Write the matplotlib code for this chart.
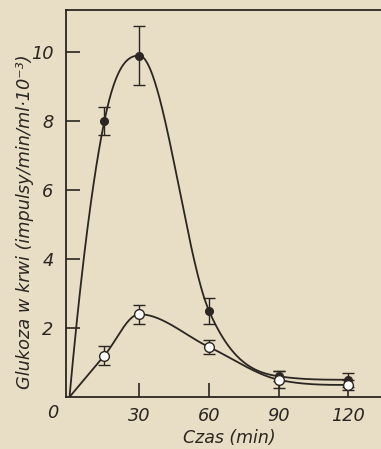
import numpy as np
import matplotlib
matplotlib.use("Agg")
import matplotlib.pyplot as plt

# ---- data ----
time_min = [0, 15, 30, 60, 90, 120]
filled_vals = [0.0, 8.0, 9.9, 2.5, 0.6, 0.5]
filled_err = [0.0, 0.4, 0.85, 0.37, 0.15, 0.2]
open_vals = [0.0, 1.2, 2.4, 1.45, 0.5, 0.35]
open_err = [0.0, 0.28, 0.28, 0.2, 0.25, 0.15]
xticks = [30, 60, 90, 120]
yticks = [2, 4, 6, 8, 10]

BG = '#e8ddc5'
INK = '#2b2621'


def smooth_curve(x, y, n=500):
    """Monotone cubic Hermite curve through the points (centred slopes, Fritsch-Carlson limited)."""
    x = np.asarray(x, float); y = np.asarray(y, float)
    h = np.diff(x); d = np.diff(y) / h
    m = np.zeros_like(y)
    for k in range(1, len(x) - 1):
        if d[k - 1] * d[k] > 0:
            m[k] = (y[k + 1] - y[k - 1]) / (x[k + 1] - x[k - 1])
    m[0] = ((2 * h[0] + h[1]) * d[0] - h[0] * d[1]) / (h[0] + h[1])
    m[-1] = ((2 * h[-1] + h[-2]) * d[-1] - h[-1] * d[-2]) / (h[-1] + h[-2])
    if np.sign(m[0]) != np.sign(d[0]):
        m[0] = 0
    if np.sign(m[-1]) != np.sign(d[-1]):
        m[-1] = 0
    for k in range(len(d)):
        if d[k] == 0:
            m[k] = m[k + 1] = 0
            continue
        a, b = m[k] / d[k], m[k + 1] / d[k]
        r = a * a + b * b
        if r > 9:
            tau = 3 / np.sqrt(r)
            m[k] = tau * a * d[k]; m[k + 1] = tau * b * d[k]
    xs = np.linspace(x[0], x[-1], n)
    i = np.clip(np.searchsorted(x, xs, side='right') - 1, 0, len(x) - 2)
    t = (xs - x[i]) / h[i]
    h00 = 2 * t**3 - 3 * t**2 + 1; h10 = t**3 - 2 * t**2 + t
    h01 = -2 * t**3 + 3 * t**2; h11 = t**3 - t**2
    ys = h00 * y[i] + h10 * h[i] * m[i] + h01 * y[i + 1] + h11 * h[i] * m[i + 1]
    return xs, ys


fig = plt.figure(figsize=(3.81, 4.49), dpi=100, facecolor=BG)
ax = fig.add_axes([66 / 381, 52 / 449, (381 - 66) / 381, (397 - 10) / 449])
ax.set_facecolor(BG)
ax.set_xlim(-1.5, 134)
ax.set_ylim(0, 11.22)

for vals, err, face, ms in [(filled_vals, filled_err, INK, 5.5),
                            (open_vals, open_err, 'white', 7)]:
    xs, ys = smooth_curve(time_min, vals)
    ax.plot(xs, ys, color=INK, lw=1.3, zorder=2)
    ax.errorbar(time_min[1:], vals[1:], yerr=err[1:], fmt='o', ms=ms,
                mfc=face, mec=INK, mew=1.0, ecolor=INK, elinewidth=1.0,
                capsize=4, capthick=1.0, zorder=3)

for s in ['top', 'left', 'bottom']:
    ax.spines[s].set_color(INK)
    ax.spines[s].set_linewidth(1.3)
ax.spines['right'].set_visible(False)

tickfont = dict(family=['Liberation Sans Narrow', 'DejaVu Sans'], style='italic', size=12.8)
ax.set_xticks(xticks)
ax.set_yticks(yticks)
ax.set_xticklabels([str(v) for v in xticks], **tickfont, color=INK)
ax.set_yticklabels([str(v) for v in yticks], **tickfont, color=INK)
ax.tick_params(axis='both', direction='in', length=10, width=1.2, color=INK)
ax.tick_params(axis='y', pad=9)
ax.tick_params(axis='x', pad=7)

fig.text(53 / 381, 1 - 413 / 449, '0', ha='center', va='center', color=INK, **tickfont)
fig.text(229 / 381, 1 - 438 / 449, 'Czas (min)', ha='center', va='center',
         color=INK, family='DejaVu Sans', style='italic', size=12.5)
fig.text(25 / 381, 1 - 222 / 449, 'Glukoza w krwi (impulsy/min/ml·10⁻³)',
         rotation=90, ha='center', va='center', color=INK,
         family='DejaVu Sans', style='italic', size=12.8)

fig.savefig('out.png', dpi=100, facecolor=BG)
